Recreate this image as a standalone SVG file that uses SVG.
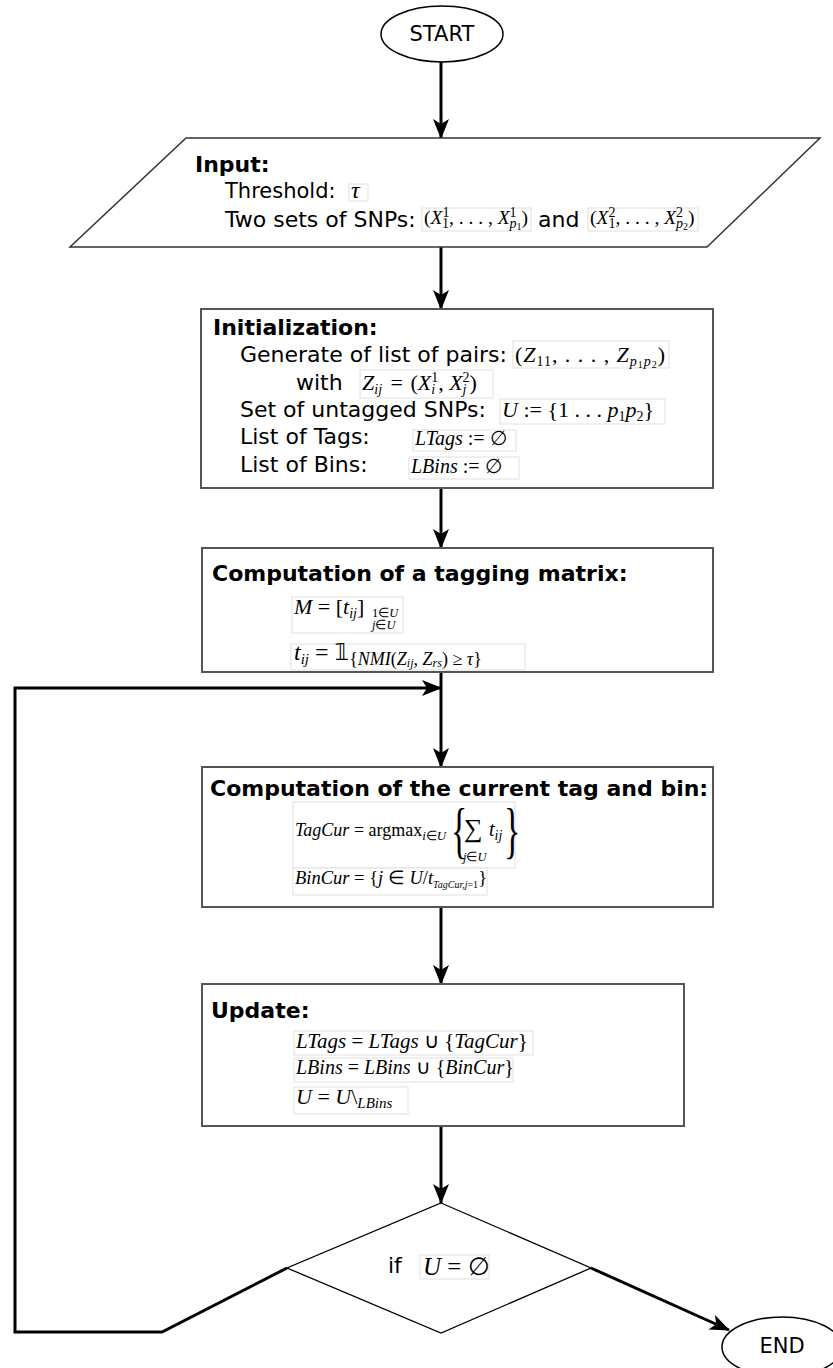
<svg xmlns="http://www.w3.org/2000/svg" width="833" height="1368" viewBox="0 0 833 1368">
<defs>
<style>
.box{fill:#fff;stroke:#555;stroke-width:2}
.term{fill:#fff;stroke:#000;stroke-width:1.5}
.t{font-family:"DejaVu Sans","Liberation Sans",sans-serif;font-size:21px;fill:#000}
.t22{font-size:22px}
.b{font-weight:bold;font-size:22px}
.m{font-family:"Liberation Serif",serif;font-style:italic;font-size:20px;fill:#000}
.u{font-style:normal}
.s{font-size:14px}
.ss{font-size:10px}
.fb{fill:#fff;stroke:#e0e0e0;stroke-width:1}
.c{fill:none;stroke:#000;stroke-width:3}
</style>
<marker id="ah" viewBox="0 0 20 16" refX="19" refY="8" markerWidth="20" markerHeight="16" markerUnits="userSpaceOnUse" orient="auto">
<path d="M0,0 L20,8 L0,16 L5,8 Z" fill="#000"/>
</marker>
</defs>
<rect width="833" height="1368" fill="#fff"/>

<g id="connectors">
<line class="c" x1="441" y1="62" x2="441" y2="138" marker-end="url(#ah)"/>
<line class="c" x1="441" y1="247" x2="441" y2="309" marker-end="url(#ah)"/>
<line class="c" x1="441" y1="488" x2="441" y2="548" marker-end="url(#ah)"/>
<line class="c" x1="441" y1="672" x2="441" y2="767" marker-end="url(#ah)"/>
<line class="c" x1="441" y1="907" x2="441" y2="984" marker-end="url(#ah)"/>
<line class="c" x1="441" y1="1126" x2="441" y2="1203" marker-end="url(#ah)"/>
<polyline class="c" points="287,1268 162,1332 15,1332 15,688 441,688" marker-end="url(#ah)"/>
<line class="c" x1="591" y1="1268" x2="729" y2="1330" marker-end="url(#ah)"/>
</g>

<g id="start">
<ellipse class="term" cx="442" cy="34" rx="61" ry="28"/>
<text class="t" x="442" y="41" text-anchor="middle">START</text>
</g>

<g id="input">
<polygon points="186,138 820,138 707,247 70,247" fill="#fff" stroke="#333" stroke-width="1.5"/>
<text class="t b" x="195" y="172">Input:</text>
<text class="t" x="225" y="198">Threshold:</text>
<rect class="fb" x="349" y="184" width="19" height="17"/>
<text class="m" x="351" y="198" style="font-size:24px">τ</text>
<text class="t t22" x="225" y="227">Two sets of SNPs:</text>
<rect class="fb" x="422" y="208" width="109" height="23"/>
<text class="m" x="424" y="224" style="font-size:19.5px"><tspan class="u">(</tspan>X<tspan class="u s" dy="-7">1</tspan><tspan class="u s" dx="-7" dy="11">1</tspan><tspan class="u" dy="-4">, . . . , </tspan>X<tspan class="u s" dy="-7">1</tspan><tspan class="s" dx="-7" dy="11">p</tspan><tspan class="u ss" dy="2">1</tspan><tspan class="u" dy="-6">)</tspan></text>
<text class="t t22" x="538" y="227">and</text>
<rect class="fb" x="588" y="208" width="110" height="23"/>
<text class="m" x="590" y="224" style="font-size:19.5px"><tspan class="u">(</tspan>X<tspan class="u s" dy="-7">2</tspan><tspan class="u s" dx="-7" dy="11">1</tspan><tspan class="u" dy="-4">, . . . , </tspan>X<tspan class="u s" dy="-7">2</tspan><tspan class="s" dx="-7" dy="11">p</tspan><tspan class="u ss" dy="2">2</tspan><tspan class="u" dy="-6">)</tspan></text>
</g>

<g id="init">
<rect class="box" x="201" y="309" width="512" height="179"/>
<text class="t b" x="213" y="335">Initialization:</text>
<text class="t t22" x="240" y="362">Generate of list of pairs:</text>
<rect class="fb" x="513" y="341" width="156" height="27"/>
<text class="m" x="515" y="362" style="font-size:22px" textLength="150"><tspan class="u">(</tspan>Z<tspan class="u s" dy="4">11</tspan><tspan class="u" dy="-4">, . . . , </tspan>Z<tspan class="s" dy="4">p</tspan><tspan class="u ss" dy="2">1</tspan><tspan class="s" dy="-2">p</tspan><tspan class="u ss" dy="2">2</tspan><tspan class="u" dy="-6">)</tspan></text>
<text class="t t22" x="296" y="390">with</text>
<rect class="fb" x="360" y="370" width="133" height="28"/>
<text class="m" x="362" y="390" style="font-size:22px">Z<tspan class="s" dy="4">ij</tspan><tspan class="u" dx="3" dy="-4"> = </tspan><tspan class="u" dx="2">(</tspan>X<tspan class="u s" dy="-8">1</tspan><tspan class="s" dx="-7" dy="12">i</tspan><tspan class="u" dx="3" dy="-4">, </tspan>X<tspan class="u s" dy="-8">2</tspan><tspan class="s" dx="-7" dy="12">j</tspan><tspan class="u" dx="3" dy="-4">)</tspan></text>
<text class="t t22" x="240" y="417">Set of untagged SNPs:</text>
<rect class="fb" x="500" y="399" width="165" height="25"/>
<text class="m" x="502" y="417" style="font-size:22px">U<tspan class="u"> := {1 . . . </tspan>p<tspan class="u s" dy="4">1</tspan><tspan dy="-4">p</tspan><tspan class="u s" dy="4">2</tspan><tspan class="u" dy="-4">}</tspan></text>
<text class="t t22" x="240" y="444">List of Tags:</text>
<rect class="fb" x="413" y="430" width="103" height="21"/>
<text class="m" x="415" y="445">LTags<tspan class="u"> := ∅</tspan></text>
<text class="t t22" x="240" y="472">List of Bins:</text>
<rect class="fb" x="409" y="457" width="110" height="22"/>
<text class="m" x="411" y="473">LBins<tspan class="u"> := ∅</tspan></text>
</g>

<g id="tagging">
<rect class="box" x="202" y="548" width="511" height="124"/>
<text class="t b" x="212" y="581">Computation of a tagging matrix:</text>
<rect class="fb" x="292" y="597" width="111" height="36"/>
<text class="m" x="294" y="614" style="font-size:22px">M<tspan class="u"> = [</tspan>t<tspan class="s" dy="4">ij</tspan><tspan class="u" dy="-4">]</tspan></text>
<text class="m" x="372" y="617" style="font-size:12.5px"><tspan class="u">1∈</tspan>U</text>
<text class="m" x="372" y="629" style="font-size:12.5px">j<tspan class="u">∈</tspan>U</text>
<rect class="fb" x="291" y="644" width="234" height="26"/>
<text class="m" x="294" y="660" style="font-size:24px">t<tspan style="font-size:15px" dy="4">ij</tspan><tspan class="u" dy="-4"> = </tspan><tspan class="u" style="font-family:'DejaVu Sans',sans-serif;font-size:23px">𝟙</tspan><tspan class="u" style="font-size:18px" dy="5">{</tspan><tspan style="font-size:18px">NMI</tspan><tspan class="u" style="font-size:18px">(</tspan><tspan style="font-size:18px">Z</tspan><tspan style="font-size:12px" dy="2">ij</tspan><tspan class="u" style="font-size:18px" dy="-2">, </tspan><tspan style="font-size:18px">Z</tspan><tspan style="font-size:12px" dy="2">rs</tspan><tspan class="u" style="font-size:18px" dy="-2">) ≥ </tspan><tspan style="font-size:18px">τ</tspan><tspan class="u" style="font-size:18px">}</tspan></text>
</g>

<g id="current">
<rect class="box" x="202" y="767" width="511" height="140"/>
<text class="t b" x="210" y="796">Computation of the current tag and bin:</text>
<rect class="fb" x="293" y="802" width="222" height="66"/>
<text class="m" x="295" y="836" style="font-size:18px">TagCur<tspan class="u"> = argmax</tspan><tspan style="font-size:13px" dy="4">i<tspan class="u">∈</tspan>U</tspan></text>
<text class="m u" transform="translate(451,851) scale(0.55,1)" style="font-size:62px">{</text>
<text class="m u" x="464" y="837" style="font-size:26px">∑</text>
<text class="m" x="463" y="861" style="font-size:12.5px">j<tspan class="u">∈</tspan>U</text>
<text class="m" x="489" y="836">t<tspan class="s" dy="4">ij</tspan></text>
<text class="m u" transform="translate(504,851) scale(0.55,1)" style="font-size:62px">}</text>
<rect class="fb" x="293" y="868" width="194" height="27"/>
<text class="m" x="295" y="884" style="font-size:18.5px">BinCur<tspan class="u"> = {</tspan>j<tspan class="u"> ∈ </tspan>U<tspan class="u">/</tspan>t<tspan class="ss" dy="4">TagCur,j<tspan class="u">=1</tspan></tspan><tspan class="u" dy="-4">}</tspan></text>
</g>

<g id="update">
<rect class="box" x="202" y="984" width="482" height="142"/>
<text class="t b" x="211" y="1018">Update:</text>
<rect class="fb" x="294" y="1031" width="239" height="24"/>
<text class="m" x="296" y="1048" style="font-size:21px">LTags<tspan class="u"> = </tspan>LTags<tspan class="u"> ∪ {</tspan>TagCur<tspan class="u">}</tspan></text>
<rect class="fb" x="294" y="1058" width="219" height="24"/>
<text class="m" x="296" y="1074" style="font-size:20px">LBins<tspan class="u"> = </tspan>LBins<tspan class="u"> ∪ {</tspan>BinCur<tspan class="u">}</tspan></text>
<rect class="fb" x="294" y="1087" width="114" height="27"/>
<text class="m" x="296" y="1104" style="font-size:22px">U<tspan class="u"> = </tspan>U<tspan class="u">\</tspan><tspan style="font-size:15px" dy="4">LBins</tspan></text>
</g>

<g id="decision">
<polygon points="441,1203 591,1268 441,1333 287,1268" fill="#fff" stroke="#000" stroke-width="1.3"/>
<text class="t t22" x="388" y="1273">if</text>
<rect class="fb" x="420" y="1255" width="69" height="24"/>
<text class="m" x="423" y="1275" style="font-size:25px">U<tspan class="u"> = ∅</tspan></text>
</g>

<g id="end">
<ellipse class="term" cx="782" cy="1347" rx="60" ry="30"/>
<text class="t" x="782" y="1353" text-anchor="middle">END</text>
</g>
</svg>
